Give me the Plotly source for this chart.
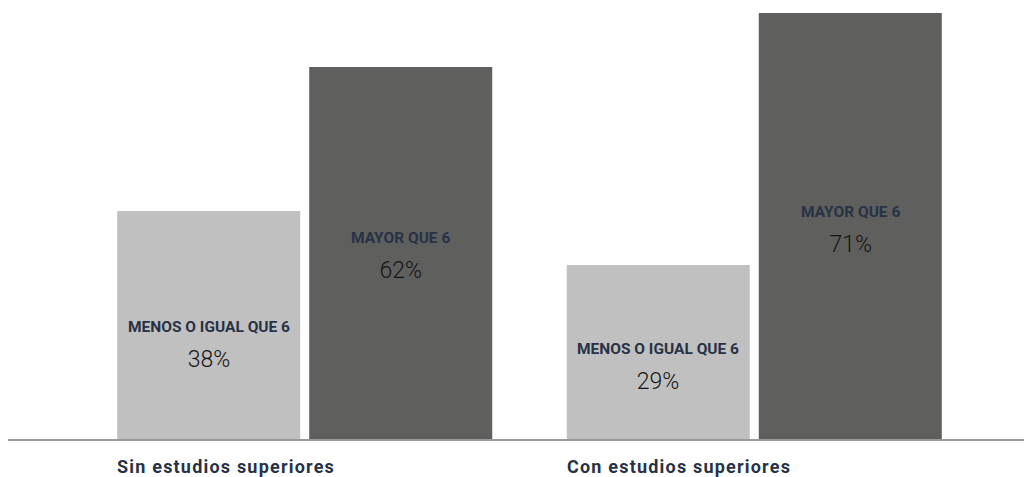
import plotly.graph_objects as go

categories = ["Sin estudios superiores", "Con estudios superiores"]
series_names = ["MENOS O IGUAL QUE 6", "MAYOR QUE 6"]
values_low = [38, 29]
values_high = [62, 71]
colors = ["#c0c0c0", "#5f5f5d"]

LABEL_FONT = "Roboto, sans-serif"
NUM_FONT = "Roboto, Lato, sans-serif"
LABEL_COLOR = "#283246"

BARGAP = 0.1457
GROUP_PX = 449.5            # pixel width of one category on the x axis
SLOT_PX = GROUP_PX * (1 - BARGAP) / 2
TEXT_FRAC = [0.41, 0.49]    # vertical position of the in-bar label block, as a share of bar height

fig = go.Figure()
for name, vals, col in zip(series_names, [values_low, values_high], colors):
    fig.add_trace(go.Bar(
        x=categories, y=vals, name=name,
        marker=dict(color=col, line=dict(width=0)),
        hoverinfo="skip",
    ))

for si, (name, vals) in enumerate(zip(series_names, [values_low, values_high])):
    offset = (si - 0.5) * SLOT_PX
    for cat, v in zip(categories, vals):
        fig.add_annotation(
            x=cat, xref="x", y=v * TEXT_FRAC[si], yref="y",
            xshift=offset, xanchor="center", yanchor="middle",
            text=(f"<span style='font-size:15.5px;font-weight:bold;color:{LABEL_COLOR}'>{name}</span>"
                  f"<br><span style='font-size:23px'>{v}%</span>"),
            showarrow=False, align="center",
            font=dict(family=NUM_FONT, size=27, color="#151515", weight=300),
        )

for cat in categories:
    fig.add_annotation(
        x=cat, xref="x", y=0, yref="y", yshift=-27,
        xshift=-SLOT_PX + 2.5, xanchor="left", yanchor="middle",
        text=f"<span style='letter-spacing:1.2px'><b>{cat}</b></span>", showarrow=False,
        font=dict(family=LABEL_FONT, size=18, color=LABEL_COLOR),
    )

fig.update_layout(
    width=1024, height=477,
    margin=dict(l=8, r=0, t=0, b=38),
    paper_bgcolor="white", plot_bgcolor="white",
    barmode="group", bargap=BARGAP, bargroupgap=0.0469,
    showlegend=False,
    xaxis=dict(range=[-0.66, 1.60], showticklabels=False, ticks="",
               showline=True, linecolor="#9a9a9a", linewidth=2,
               showgrid=False, zeroline=False, fixedrange=True),
    yaxis=dict(range=[0, 73.17], visible=False, showgrid=False,
               zeroline=False, fixedrange=True),
)

fig.write_html(
    "out.html",
    config={"displayModeBar": False},
    post_script="document.body.style.margin='0';document.body.style.overflow='hidden';",
)
